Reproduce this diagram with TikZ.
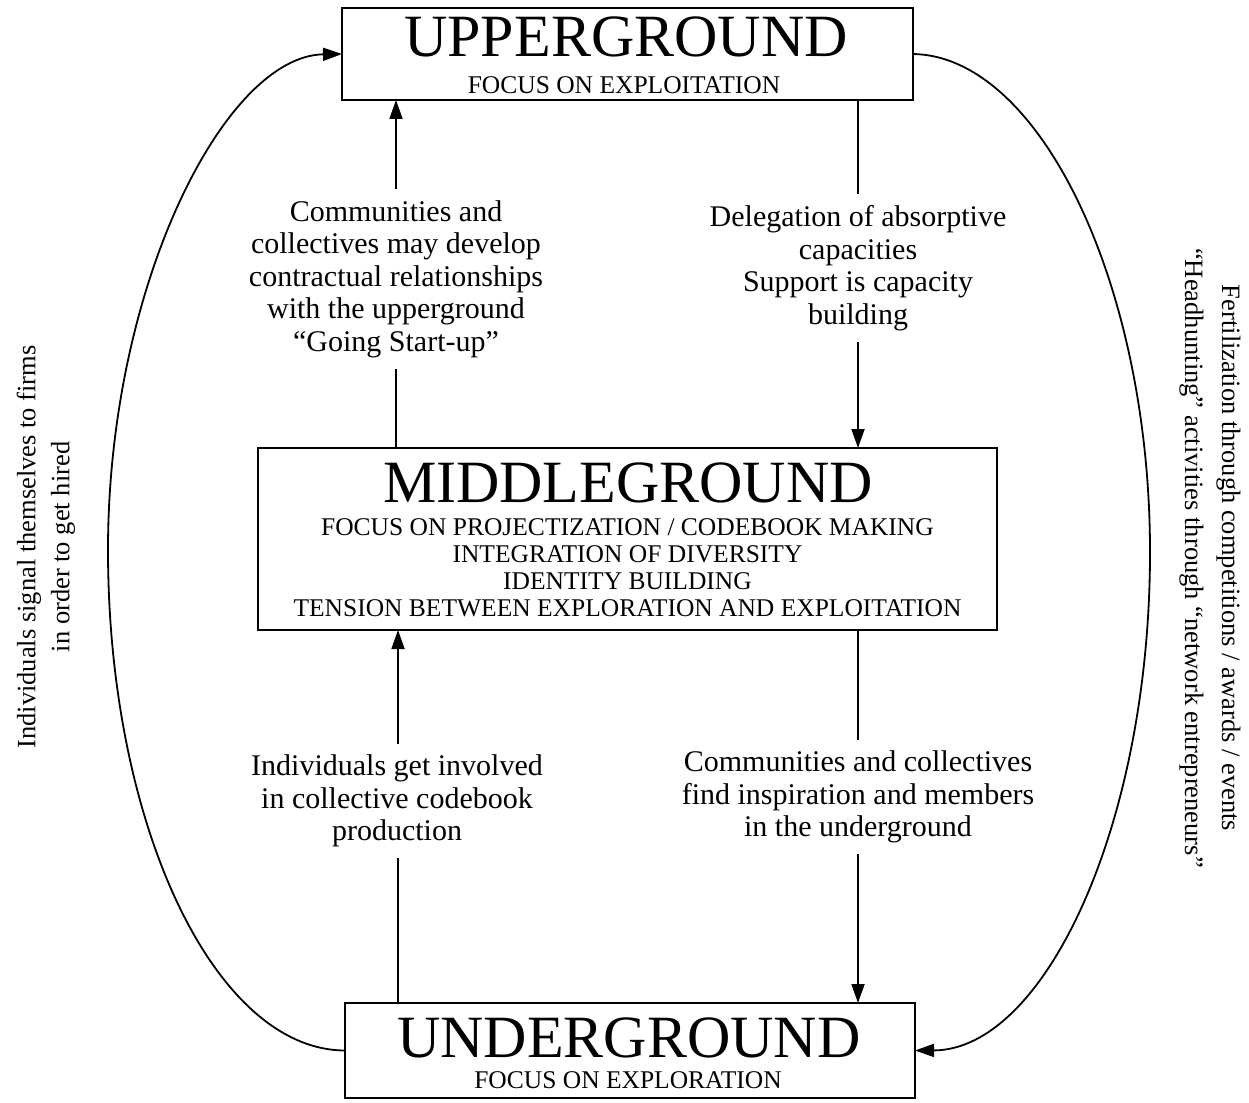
\documentclass[tikz,border=0pt]{standalone}
\usepackage{fontspec}
\setmainfont{Liberation Serif}
\usetikzlibrary{arrows.meta}
\begin{document}
\begin{tikzpicture}[x=1pt,y=-1pt,
  box/.style={draw,line width=1.8pt,inner sep=0pt,outer sep=0pt},
  conn/.style={line width=1.8pt},
  arr/.style={conn,-{Triangle[length=19pt,width=13pt]}},
  lbl/.style={align=center,inner xsep=4pt,inner ysep=11pt,font=\fontsize{30}{32.5}\selectfont},
  ttl/.style={anchor=base,inner sep=0pt,font=\fontsize{60}{60}\selectfont},
  sub/.style={anchor=base,inner sep=0pt,font=\fontsize{25.5}{25.5}\selectfont},
  side/.style={align=center,inner sep=0pt,font=\fontsize{26.5}{34}\selectfont}
]
\useasboundingbox (0,0) rectangle (1249,1102);
\fill[white] (0,0) rectangle (1249,1102);

% boxes
\node[box,minimum width=571pt,minimum height=92pt] (up) at (627.5,54) {};
\node[box,minimum width=739pt,minimum height=182pt] (mid) at (627.5,539) {};
\node[box,minimum width=570pt,minimum height=95pt] (dn) at (630,1050.5) {};

% box texts
\node[ttl] (upt) at (626,57) {UPPERGROUND};
\node[sub] (ups) at (624,94) {FOCUS ON EXPLOITATION};
\node[ttl] (midt) at (628,502) {MIDDLEGROUND};
\node[sub] (m1) at (627.5,535) {FOCUS ON PROJECTIZATION / CODEBOOK MAKING};
\node[sub] (m2) at (627.5,562) {INTEGRATION OF DIVERSITY};
\node[sub] (m3) at (627.5,589) {IDENTITY BUILDING};
\node[sub] (m4) at (627.5,616) {TENSION BETWEEN EXPLORATION AND EXPLOITATION};
\node[ttl] (dnt) at (629,1057) {UNDERGROUND};
\node[sub] (dns) at (628,1088) {FOCUS ON EXPLORATION};

% labels
\node[lbl] (lu) at (396,279) {Communities and\\collectives may develop\\contractual relationships\\with the upperground\\“Going Start-up”};
\node[lbl] (ru) at (858,268) {Delegation of absorptive\\capacities\\Support is capacity\\building};
\node[lbl] (ll) at (397,801) {Individuals get involved\\in collective codebook\\production};
\node[lbl] (rl) at (858,797) {Communities and collectives\\find inspiration and members\\in the underground};

\coordinate (xl) at (396,0);
\coordinate (xr) at (858,0);
\coordinate (xll) at (398,0);

% vertical connectors
\draw[conn] (xl |- mid.north) -- (lu.south);
\draw[arr] (lu.north) -- (xl |- up.south);
\draw[conn] (xr |- up.south) -- (ru.north);
\draw[arr] (ru.south) -- (xr |- mid.north);
\draw[conn] (xll |- dn.north) -- (xll |- ll.south);
\draw[arr] (xll |- ll.north) -- (xll |- mid.south);
\draw[conn] (xr |- mid.south) -- (rl.north);
\draw[arr] (rl.south) -- (xr |- dn.north);

% outer curves
\draw[arr] (dn.west) .. controls (215,1050) and (108,826) .. (108,550)
  .. controls (108,285) and (225,56) .. (up.west);
\draw[arr] (up.east) .. controls (1040,56) and (1150,285) .. (1150,552)
  .. controls (1150,826) and (1044,1050) .. (dn.east);

% side texts
\node[side,rotate=90] (lt) at (46,547) {Individuals signal themselves to firms\\in order to get hired};
\node[side,rotate=-90,font=\fontsize{26.5}{37}\selectfont] (rt) at (1210,558) {Fertilization through competitions / awards / events\\“Headhunting” activities through “network entrepreneurs”};
\end{tikzpicture}
\end{document}
